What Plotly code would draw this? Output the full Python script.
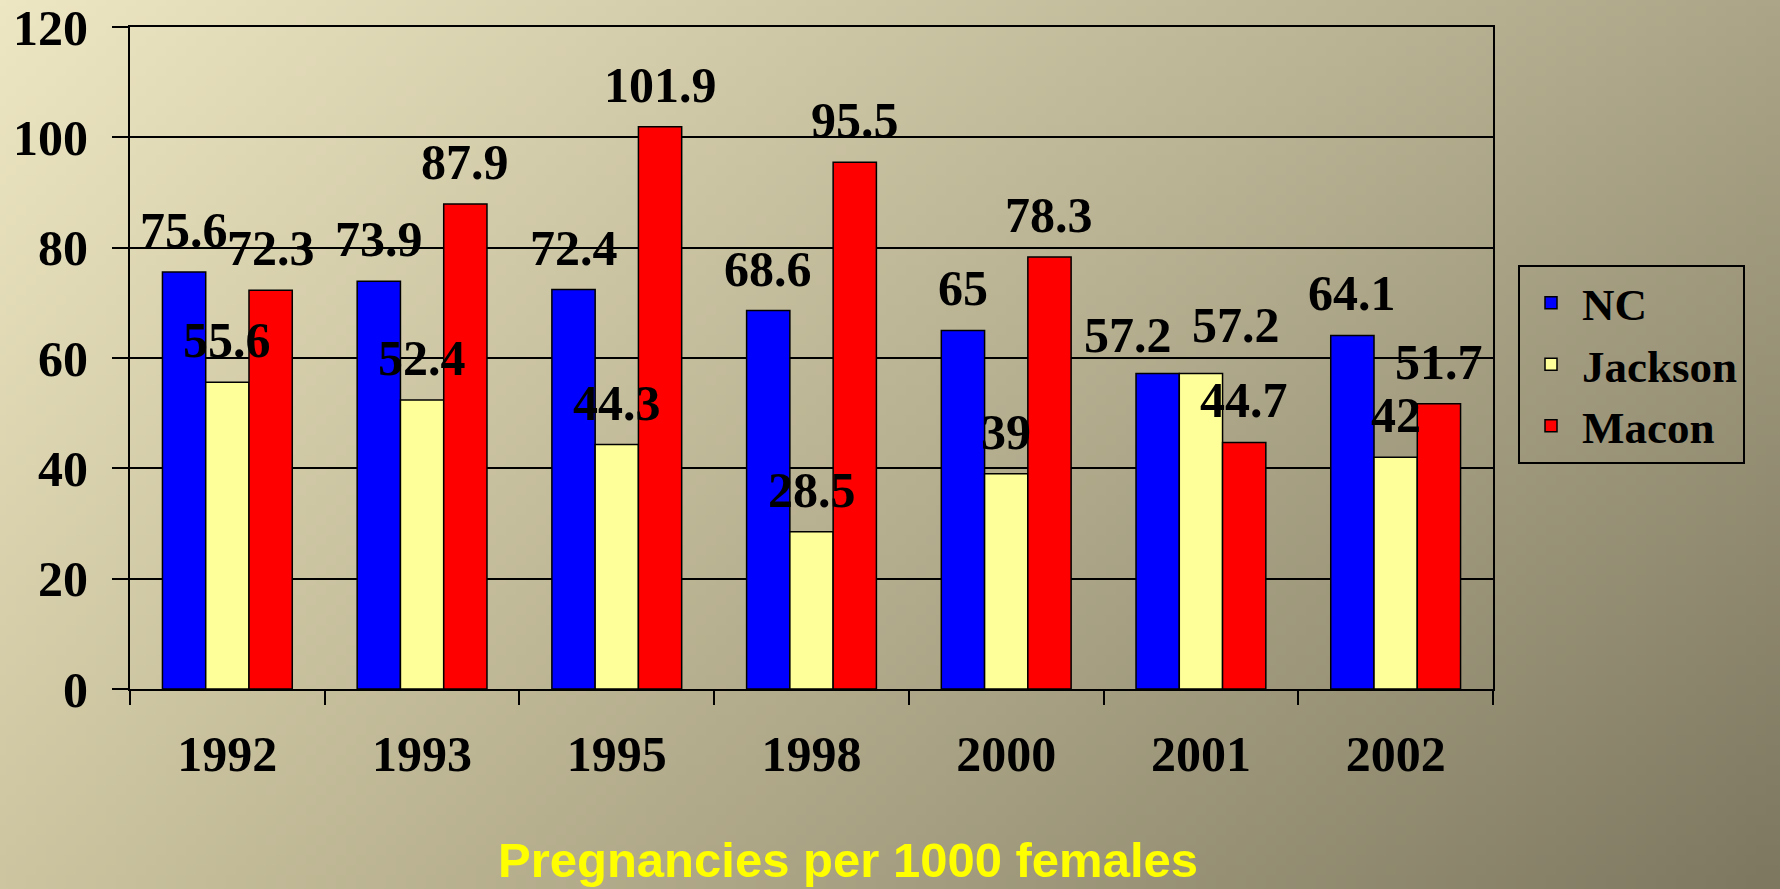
import base64
import struct
import zlib

import numpy as np
import plotly.graph_objects as go

# ---------------- data ----------------
years = ["1992", "1993", "1995", "1998", "2000", "2001", "2002"]
nc = [75.6, 73.9, 72.4, 68.6, 65, 57.2, 64.1]
jackson = [55.6, 52.4, 44.3, 28.5, 39, 57.2, 42]
macon = [72.3, 87.9, 101.9, 95.5, 78.3, 44.7, 51.7]
series_names = ["NC", "Jackson", "Macon"]
series_colors = ["#0000FF", "#FFFF99", "#FF0000"]
y_ticks = [0, 20, 40, 60, 80, 100, 120]
x_title = "Pregnancies per 1000 females"

# ---------------- layout constants ----------------
W, H = 1780, 889
ML, MR, MT, MB = 130, 287, 27, 200
PW, PH = W - ML - MR, H - MT - MB
BARGAP = 1 / 3
SERIF = "Liberation Serif, Times New Roman, serif"

# small manual nudges of data labels (pixels), as in the original slide
label_nudge = {("NC", "2001"): (-30, -4), ("Jackson", "2001"): (35, 6)}


def png_data_uri(arr):
    h, w, _ = arr.shape
    raw = b"".join(b"\x00" + arr[r].tobytes() for r in range(h))

    def chunk(tag, data):
        c = tag + data
        return struct.pack(">I", len(data)) + c + struct.pack(">I", zlib.crc32(c) & 0xFFFFFFFF)

    png = b"\x89PNG\r\n\x1a\n"
    png += chunk(b"IHDR", struct.pack(">IIBBBBB", w, h, 8, 2, 0, 0, 0))
    png += chunk(b"IDAT", zlib.compress(raw, 9))
    png += chunk(b"IEND", b"")
    return "data:image/png;base64," + base64.b64encode(png).decode()


# background gradient (four corner colours)
gw, gh = 178, 89
tl = np.array([238, 231, 195], float)
tr = np.array([172, 165, 135], float)
bl = np.array([205, 197, 160], float)
br = np.array([126, 120, 97], float)
u = np.linspace(0, 1, gw)[None, :, None]
v = np.linspace(0, 1, gh)[:, None, None]
grad = (tl * (1 - u) * (1 - v) + tr * u * (1 - v) + bl * (1 - u) * v + br * u * v)
bg_uri = png_data_uri(np.clip(grad, 0, 255).astype(np.uint8))

fig = go.Figure()
all_vals = [nc, jackson, macon]
for name, vals, col in zip(series_names, all_vals, series_colors):
    fig.add_trace(go.Bar(
        x=years, y=vals, name=name,
        marker=dict(color=col, line=dict(color="black", width=1.5)),
        hoverinfo="x+y+name",
    ))

bar_w = (1 - BARGAP) / len(series_names)
annotations = []
for k, (name, vals) in enumerate(zip(series_names, all_vals)):
    for i, v in enumerate(vals):
        dx, dy = label_nudge.get((name, years[i]), (0, 0))
        annotations.append(dict(
            x=i + (k - (len(series_names) - 1) / 2) * bar_w, y=v,
            xref="x", yref="y", text=f"{v:g}", showarrow=False,
            xanchor="center", yanchor="bottom", yshift=12 + dy, xshift=dx,
            font=dict(family=SERIF, size=50, color="black", weight="bold"),
        ))

annotations.append(dict(
    x=(848 - ML) / PW, y=(PH + MT - 860) / PH, xref="paper", yref="paper",
    text=x_title, showarrow=False, xanchor="center", yanchor="middle",
    font=dict(family="Liberation Sans, Arial, sans-serif",
              size=49, color="#FFFF00", weight="bold"),
))

fig.update_layout(
    width=W, height=H, autosize=False,
    margin=dict(l=ML, r=MR, t=MT, b=MB, pad=0, autoexpand=False),
    paper_bgcolor="#D8D0AA", plot_bgcolor="rgba(0,0,0,0)",
    barmode="group", bargap=BARGAP, bargroupgap=0,
    showlegend=True,
    legend=dict(
        x=(1518 - ML) / PW, y=(PH + MT - 265) / PH, xanchor="left", yanchor="top",
        bgcolor="rgba(0,0,0,0)", bordercolor="black", borderwidth=2,
        font=dict(family=SERIF, size=45, color="black", weight="bold"),
        tracegroupgap=0, itemwidth=52,
    ),
    annotations=annotations,
    images=[dict(
        source=bg_uri, xref="paper", yref="paper",
        x=-ML / PW, y=1 + MT / PH, sizex=W / PW, sizey=H / PH,
        xanchor="left", yanchor="top", sizing="stretch", layer="below",
    )],
)
fig.update_xaxes(
    type="category", showgrid=False, showline=True, linecolor="black", linewidth=2,
    mirror=True, ticks="outside", tickson="boundaries", ticklen=14, tickwidth=2,
    tickcolor="black", ticklabelstandoff=20, automargin=False,
    tickfont=dict(family=SERIF, size=50, color="black", weight="bold"),
)
fig.update_yaxes(
    range=[0, 120], tickvals=y_ticks, showgrid=True, gridcolor="black", gridwidth=1.5,
    zeroline=False, showline=True, linecolor="black", linewidth=2, mirror=True,
    ticks="outside", ticklen=16, tickwidth=2, tickcolor="black", ticklabelstandoff=14,
    automargin=False, ticklabeloverflow="allow",
    tickfont=dict(family=SERIF, size=50, color="black", weight="bold"),
)

fig.write_html(
    "out.html",
    config={"displayModeBar": False},
    post_script="document.body.style.margin='0';document.body.style.overflow='hidden';",
)
